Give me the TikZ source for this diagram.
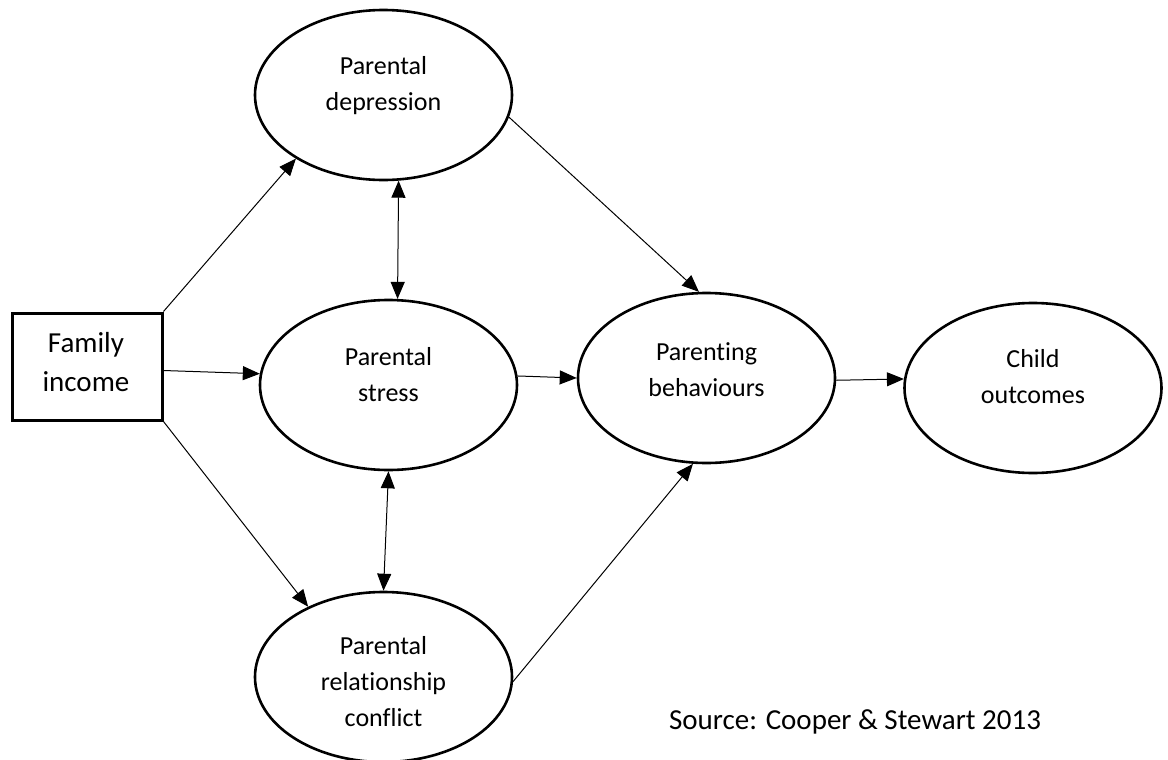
\documentclass[tikz,border=0pt]{standalone}
\usepackage{fontspec}
\setmainfont[Ligatures=NoCommon]{Carlito}
\usetikzlibrary{shapes.geometric,arrows.meta}

\begin{document}
\begin{tikzpicture}[x=0.5pt,y=-0.5pt,
  head/.tip={Triangle[length=8.5pt,width=7pt]},
  oval/.style={ellipse,draw,line width=1.3pt,minimum width=128.5pt,minimum height=85pt,inner sep=0pt},
  box/.style={rectangle,draw,line width=1.5pt,minimum width=75pt,minimum height=53.5pt,inner sep=0pt},
  txt/.style={align=center,font=\fontsize{13}{18}\selectfont},
  bigtxt/.style={align=center,font=\fontsize{14.5}{19.5}\selectfont},
  link/.style={line width=0.5pt,-head},
  both/.style={line width=0.5pt,head-head}]
\useasboundingbox (0,0) rectangle (1168,760);

\node[box] (inc) at (87,366.5) {};
\node[bigtxt] (incT) at (86,362) {Family\\income};

\node[oval] (dep) at (383.5,95) {};
\node[oval] (str) at (388.5,385) {};
\node[oval] (conf) at (383.5,677) {};
\node[oval] (beh) at (706.5,378) {};
\node[oval] (child) at (1033,388) {};

\node[txt] (depT) at (383.5,86) {Parental\\depression};
\node[txt] (strT) at (388.5,375) {Parental\\stress};
\node[txt] (confT) at (383.5,682) {Parental\\relationship\\conflict};
\node[txt] (behT) at (706.5,370) {Parenting\\behaviours};
\node[txt] (childT) at (1033,377) {Child\\outcomes};

\node[bigtxt] (src) at (855,722) {Source: Cooper \& Stewart 2013};

\draw[link] (inc.north east) -- (dep.216);
\draw[link] (inc.-3) -- (str.175);
\draw[link] (inc.south east) -- (conf.137);

\draw[both] (dep.-80) -- (str.84);
\draw[both] (str.south) -- (conf.north);

\draw[link] (dep.-10) -- (beh.95);
\draw[link] (str.4) -- (beh.west);
\draw[link] (conf.-2) -- (beh.-99);
\draw[link] (beh.-1) -- (child.176);

\end{tikzpicture}
\end{document}
